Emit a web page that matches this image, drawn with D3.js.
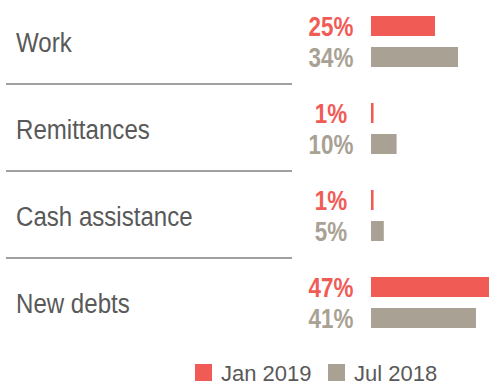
<!DOCTYPE html>
<html>
<head>
<meta charset="utf-8">
<script src="https://cdn.jsdelivr.net/npm/d3@7"></script>
<style>
  body { margin: 0; background: #fff; }
  svg { display: block; }
</style>
</head>
<body>
<div id="chart"></div>
<script>
// data
var categories = ["Work", "Remittances", "Cash assistance", "New debts"];
var jan2019 = [25, 1, 1, 47];
var jul2018 = [34, 10, 5, 41];
var seriesNames = ["Jan 2019", "Jul 2018"];

var width = 489, height = 383;
var red = "#f15b55", grey = "#a9a194", textGrey = "#595959";

var svg = d3.select("#chart").append("svg")
    .attr("width", width)
    .attr("height", height);

/*scales*/
var yBand = d3.scaleBand()
    .domain(categories)
    .range([-3, -3 + 87 * categories.length])
    .padding(0);

var xScale = d3.scaleLinear()
    .domain([0, 50])
    .range([371, 499]);

var series = [jan2019, jul2018];
var colors = d3.scaleOrdinal().domain(seriesNames).range([red, grey]);
var barOffset = [19, 50], barH = 20;

// dividers between categories
svg.selectAll(".divider")
  .data(categories.slice(1))
  .enter().append("line")
    .attr("class", "divider")
    .attr("x1", 6).attr("x2", 292)
    .attr("y1", function(d){ return yBand(d); })
    .attr("y2", function(d){ return yBand(d); })
    .attr("stroke", "#808080")
    .attr("stroke-width", 1.3);

// category labels
svg.selectAll(".cat")
  .data(categories)
  .enter().append("text")
    .attr("class", "cat")
    .attr("transform", function(d){
      return "translate(16," + (yBand(d) + yBand.bandwidth() / 2 + 11) + ") scale(0.86,1)";
    })
    .attr("font-family", "Liberation Sans, Arial, sans-serif")
    .attr("font-size", 28)
    .attr("fill", textGrey)
    .text(function(d){ return d; });

// bars + value labels
series.forEach(function(vals, s){
  var g = svg.append("g");
  g.selectAll("rect")
    .data(vals)
    .enter().append("rect")
      .attr("x", xScale(0))
      .attr("y", function(d, i){ return yBand(categories[i]) + barOffset[s]; })
      .attr("width", function(d){ return xScale(d) - xScale(0); })
      .attr("height", barH)
      .attr("fill", colors(seriesNames[s]));

  g.selectAll("text")
    .data(vals)
    .enter().append("text")
      .attr("transform", function(d, i){
        return "translate(331," + (yBand(categories[i]) + barOffset[s] + barH) + ") scale(0.8,1)";
      })
      .attr("text-anchor", "middle")
      .attr("font-family", "Liberation Sans, Arial, sans-serif")
      .attr("font-weight", "bold")
      .attr("font-size", 28)
      .attr("fill", colors(seriesNames[s]))
      .text(function(d){ return d + "%"; });
});

// legend
var legX = [195, 328];
var legend = svg.selectAll(".legend")
  .data(seriesNames)
  .enter().append("g")
    .attr("class", "legend")
    .attr("transform", function(d, i){ return "translate(" + legX[i] + ",364)"; });

legend.append("rect")
    .attr("width", 17)
    .attr("height", 17)
    .attr("fill", function(d){ return colors(d); });

legend.append("text")
    .attr("x", 26)
    .attr("y", 16.5)
    .attr("font-family", "Liberation Sans, Arial, sans-serif")
    .attr("font-size", 22)
    .attr("fill", textGrey)
    .text(function(d){ return d; });
</script>
</body>
</html>
